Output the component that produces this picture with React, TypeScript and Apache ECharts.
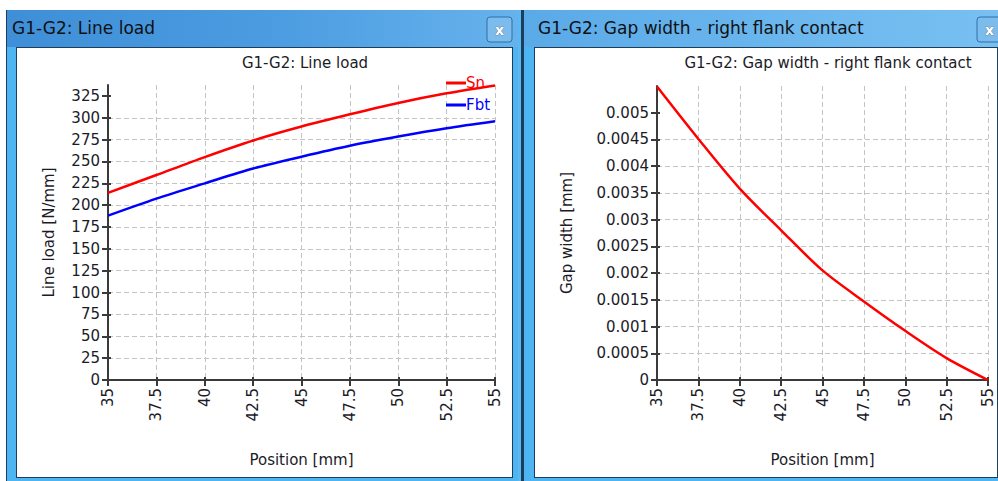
import React, { useEffect, useRef } from "react";
import * as echarts from "echarts";

const positions = [35, 37.5, 40, 42.5, 45, 47.5, 50, 52.5, 55];
const snValues = [214, 234.5, 255, 274, 290, 304, 317, 328, 337];
const fbtValues = [188, 207.5, 225, 242, 255.5, 268, 278.5, 288, 296];
const gapValues = [0.00549, 0.00451, 0.00358, 0.0028, 0.00205, 0.00147, 0.00092, 0.00041, 0];
const loadTicks = [0, 25, 50, 75, 100, 125, 150, 175, 200, 225, 250, 275, 300, 325];
const gapTicks = [0, 0.0005, 0.001, 0.0015, 0.002, 0.0025, 0.003, 0.0035, 0.004, 0.0045, 0.005];
const windowTitles = ["G1-G2: Line load", "G1-G2: Gap width - right flank contact"];
const chartTitles = ["G1-G2: Line load", "G1-G2: Gap width - right flank contact"];
const seriesNames = ["Sn", "Fbt"];

const FONT = "DejaVu Sans";
const TXT = "#1b1b28";

function pairs(xs: number[], ys: number[]) {
  return xs.map((x, i) => [x, ys[i]]);
}

function chrome(): any[] {
  const dark = "#1d3d5c";
  const light = "#4fb4f2";
  const els: any[] = [];
  const rect = (x: number, y: number, w: number, h: number, fill: any) =>
    els.push({ type: "rect", shape: { x, y, width: w, height: h }, style: { fill }, silent: true });
  rect(6, 10, 512, 471, light);
  rect(6, 10, 1, 471, dark);
  rect(7, 10, 511, 37, new echarts.graphic.LinearGradient(0, 0, 1, 0, [
    { offset: 0, color: "#3f8fd8" },
    { offset: 0.5, color: "#4a9be0" },
    { offset: 1, color: "#66b2ec" },
  ]));
  rect(521, 10, 477, 471, light);
  rect(521, 10, 3, 471, dark);
  rect(524, 10, 474, 37, new echarts.graphic.LinearGradient(0, 0, 1, 0, [
    { offset: 0, color: "#5aaae8" },
    { offset: 1, color: "#78c0f2" },
  ]));
  rect(518, 10, 3, 471, "#5cb8f0");
  rect(16, 47, 497, 431, dark);
  rect(17, 48, 495, 429, "#ffffff");
  rect(534, 47, 464, 431, dark);
  rect(535, 48, 462, 429, "#ffffff");
  const btn = (x: number) => {
    els.push({
      type: "rect",
      shape: { x, y: 17, width: 25, height: 25, r: 3 },
      style: { fill: "#7bbcec", stroke: "#2f6fa8", lineWidth: 1 },
      silent: true,
    });
    els.push({
      type: "text",
      x: x + 12.5,
      y: 29.5,
      style: { text: "x", fill: "#ffffff", font: "bold 14px DejaVu Sans", align: "center", verticalAlign: "middle", stroke: "#5a6a7a", lineWidth: 0.6 },
      silent: true,
    });
  };
  btn(487);
  btn(977);
  els.push({
    type: "text", x: 12, y: 28,
    style: { text: windowTitles[0], fill: "#101010", font: "17px DejaVu Sans", verticalAlign: "middle" }, silent: true,
  });
  els.push({
    type: "text", x: 538, y: 28,
    style: { text: windowTitles[1], fill: "#101010", font: "17px DejaVu Sans", verticalAlign: "middle" }, silent: true,
  });
  return els;
}

export default function App() {
  const ref = useRef<HTMLDivElement>(null);
  useEffect(() => {
    document.body.style.margin = "0";
    const chart = echarts.init(ref.current!, null, { renderer: "svg" });
    const axisText = { fontFamily: FONT, fontSize: 15, color: TXT };
    const splitLine = { show: true, lineStyle: { color: "#c4c4c4", type: [5, 3], width: 1 } };
    const axisLine = { show: true, onZero: false, lineStyle: { color: "#3a3a3a", width: 2 } };
    const axisTick = { show: true, length: 6, lineStyle: { color: "#3a3a3a", width: 2 } };
    const innerTick = { show: true, inside: true, length: 3, lineStyle: { color: "#3a3a3a", width: 2 } };
    const xAxisCommon = (gridIndex: number) => ({
      type: "value",
      gridIndex,
      min: 35,
      max: 55,
      interval: 2.5,
      name: "Position [mm]",
      nameLocation: "middle",
      nameGap: 72,
      nameTextStyle: { ...axisText },
      axisLine,
      axisTick,
      splitLine,
      axisLabel: { ...axisText, rotate: 90, margin: 8 },
    });
    const xInner = (gridIndex: number) => ({
      type: "value", gridIndex, min: 35, max: 55, interval: 2.5,
      axisLine: { show: false }, axisLabel: { show: false }, splitLine: { show: false },
      axisTick: innerTick, position: "bottom",
    });
    const yInner = (gridIndex: number, max: number, interval: number, ticks: number[]) => ({
      type: "value", gridIndex, min: 0, max, interval,
      axisLine: { show: false }, axisLabel: { show: false }, splitLine: { show: false },
      axisTick: { ...innerTick, customValues: ticks }, position: "left",
    });
    chart.setOption({
      animation: false,
      backgroundColor: "#ffffff",
      graphic: chrome(),
      title: [
        { text: chartTitles[0], left: 300, top: 50, textAlign: "center", textStyle: { fontFamily: FONT, fontSize: 15, fontWeight: "normal", color: TXT } },
        { text: chartTitles[1], left: 823, top: 50, textAlign: "center", textStyle: { fontFamily: FONT, fontSize: 15, fontWeight: "normal", color: TXT } },
      ],
      legend: {
        orient: "vertical",
        left: 446,
        top: 74,
        itemWidth: 20,
        itemHeight: 3,
        itemGap: 4,
        icon: "rect",
        padding: 0,
        textStyle: { fontFamily: FONT, fontSize: 15, lineHeight: 18, padding: [0, 0, 0, -5] },
        data: [
          { name: seriesNames[0], textStyle: { color: "#ff0000" } },
          { name: seriesNames[1], textStyle: { color: "#0000ff" } },
        ],
      },
      grid: [
        { left: 108, right: 503, top: 85, bottom: 101 },
        { left: 657, right: 10, top: 86, bottom: 101 },
      ],
      xAxis: [xAxisCommon(0), xAxisCommon(1), xInner(0), xInner(1)],
      yAxis: [
        {
          type: "value",
          gridIndex: 0,
          min: 0,
          max: 337.5,
          interval: 25,
          name: "Line load [N/mm]",
          nameLocation: "middle",
          nameGap: 52,
          nameTextStyle: { ...axisText },
          axisLine,
          axisTick: { ...axisTick, customValues: loadTicks },
          splitLine: { ...splitLine, showMaxLine: false },
          axisLabel: { ...axisText, margin: 8, customValues: loadTicks },
        },
        {
          type: "value",
          gridIndex: 1,
          min: 0,
          max: 0.0055,
          interval: 0.0005,
          name: "Gap width [mm]",
          nameLocation: "middle",
          nameGap: 83,
          nameTextStyle: { ...axisText },
          axisLine,
          axisTick: { ...axisTick, customValues: gapTicks },
          splitLine: { ...splitLine, showMaxLine: false },
          axisLabel: {
            ...axisText,
            margin: 8,
            customValues: gapTicks,
            formatter: (v: number) => String(+v.toFixed(4)),
          },
        },
        yInner(0, 337.5, 25, loadTicks),
        yInner(1, 0.0055, 0.0005, gapTicks),
      ],
      series: [
        {
          name: seriesNames[0], type: "line", xAxisIndex: 0, yAxisIndex: 0,
          data: pairs(positions, snValues), showSymbol: false, smooth: 0.3,
          lineStyle: { color: "#ff0000", width: 2.5 }, itemStyle: { color: "#ff0000" }, z: 5,
        },
        {
          name: seriesNames[1], type: "line", xAxisIndex: 0, yAxisIndex: 0,
          data: pairs(positions, fbtValues), showSymbol: false, smooth: 0.3,
          lineStyle: { color: "#0000ff", width: 2.5 }, itemStyle: { color: "#0000ff" }, z: 5,
        },
        {
          name: "Gap", type: "line", xAxisIndex: 1, yAxisIndex: 1,
          data: pairs(positions, gapValues), showSymbol: false, smooth: 0.3,
          lineStyle: { color: "#ff0000", width: 2.5 }, itemStyle: { color: "#ff0000" }, z: 5,
        },
      ],
    });
    return () => chart.dispose();
  }, []);
  return <div ref={ref} style={{ position: "fixed", left: 0, top: 0, width: 998, height: 481 }} />;
}
